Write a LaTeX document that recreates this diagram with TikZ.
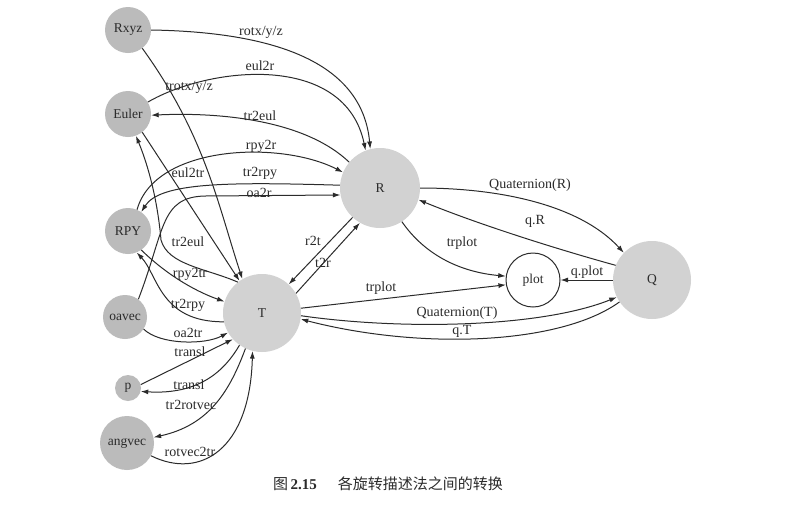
\documentclass[tikz,border=0pt]{standalone}
\usepackage{fontspec}
\setmainfont{Liberation Serif}
\newfontfamily\cjk{Noto Sans CJK SC}
\usetikzlibrary{arrows.meta}
\definecolor{ink}{HTML}{2B2B2B}
\definecolor{smallfill}{HTML}{BBBBBB}
\definecolor{bigfill}{HTML}{D2D2D2}
\begin{document}
\begin{tikzpicture}[x=1pt,y=-1pt,
  conn/.style={draw=ink, line width=1pt, -{Latex[length=7.5pt,width=5pt]}},
  lbl/.style={text=ink, font=\fontsize{14}{16}\selectfont, inner sep=0pt},
  sm/.style={circle, fill=smallfill, inner sep=0pt, text=ink, font=\fontsize{13.5}{16}\selectfont},
  bg/.style={circle, fill=bigfill, inner sep=0pt, text=ink, font=\fontsize{13.5}{16}\selectfont},
  wt/.style={circle, fill=white, draw=ink, line width=1pt, inner sep=0pt, text=ink, font=\fontsize{13.5}{16}\selectfont},
]
\useasboundingbox (0,0) rectangle (791,509);
\fill[white] (0,0) rectangle (791,509);
% nodes
\node[sm, minimum size=46pt] (Rxyz) at (128,30) {Rxyz};
\node[sm, minimum size=46pt] (Euler) at (128,114) {Euler};
\node[sm, minimum size=46pt] (RPY) at (128,231) {RPY};
\node[sm, minimum size=44pt] (oavec) at (125,317) {oavec};
\node[sm, minimum size=26pt] (p) at (128,388) {p};
\node[sm, minimum size=54pt] (angvec) at (127,443) {angvec};
\node[bg, minimum size=80pt] (R) at (380,188) {R};
\node[bg, minimum size=78pt] (T) at (262,313) {T};
\node[bg, minimum size=78pt] (Q) at (652,280) {Q};
\node[wt, minimum size=54pt] (plot) at (533,280) {plot};
% connectors
\draw[conn] (Rxyz.east) .. controls (270,32) and (362,60) .. (R.104);
\draw[conn] (Rxyz.-52) .. controls (205,135) and (218,205) .. (T.120);
\draw[conn] (Euler.31) .. controls (210,66) and (345,52) .. (R.111);
\draw[conn] (R.140) .. controls (305,120) and (220,112) .. (Euler.-3);
\draw[conn] (RPY.67) .. controls (155,145) and (280,140) .. (R.157);
\draw[conn] (R.176) .. controls (230,182) and (160,182) .. (RPY.55);
\draw[conn] (oavec.53) .. controls (165,230) and (160,197) .. (205,196) -- (R.190);
\draw[conn] (Euler.-52) -- (T.125);
\draw[conn] (T.128) .. controls (205,268) and (168,265) .. (161,240) .. controls (158,205) and (150,170) .. (Euler.-70);
\draw[conn] (RPY.-55) .. controls (170,278) and (200,293) .. (T.163);
\draw[conn] (T.193) .. controls (160,322) and (158,275) .. (RPY.-68);
\draw[conn] (oavec.-33) .. controls (160,345) and (205,345) .. (T.210);
\draw[conn] (p.15) -- (T.222);
\draw[conn] (T.235) .. controls (225,370) and (200,395) .. (p.-15);
\draw[conn] (T.245) .. controls (230,390) and (210,425) .. (angvec.12);
\draw[conn] (angvec.-28) .. controls (200,480) and (250,450) .. (T.256);
\draw[conn] (R.227) -- (T.47);
\draw[conn] (T.30) -- (R.240);
\draw[conn] (R.0) .. controls (500,188) and (580,205) .. (Q.136);
\draw[conn] (Q.158) .. controls (560,250) and (480,225) .. (R.-17);
\draw[conn] (R.-57) .. controls (425,255) and (460,272) .. (plot.172);
\draw[conn] (T.7) -- (plot.190);
\draw[conn] (T.-4) .. controls (400,330) and (540,328) .. (Q.206);
\draw[conn] (Q.214) .. controls (560,345) and (420,350) .. (T.-9);
\draw[conn] (Q.180) -- (plot.0);
% labels
\node[lbl] (l1) at (261,32) {rotx/y/z};
\node[lbl] (l2) at (189,87) {trotx/y/z};
\node[lbl] (l3) at (260,66) {eul2r};
\node[lbl] (l4) at (260,116) {tr2eul};
\node[lbl] (l5) at (261,146) {rpy2r};
\node[lbl] (l6) at (188,173) {eul2tr};
\node[lbl] (l7) at (260,173) {tr2rpy};
\node[lbl] (l8) at (259,193) {oa2r};
\node[lbl] (l9) at (188,242) {tr2eul};
\node[lbl] (l10) at (313,241) {r2t};
\node[lbl] (l11) at (323,263) {t2r};
\node[lbl] (l12) at (190,274) {rpy2tr};
\node[lbl] (l13) at (188,305) {tr2rpy};
\node[lbl] (l14) at (188,333) {oa2tr};
\node[lbl] (l15) at (190,352) {transl};
\node[lbl] (l16) at (189,385) {transl};
\node[lbl] (l17) at (191,405) {tr2rotvec};
\node[lbl] (l18) at (190,452) {rotvec2tr};
\node[lbl] (l19) at (530,185) {Quaternion(R)};
\node[lbl] (l20) at (535,221) {q.R};
\node[lbl] (l21) at (462,243) {trplot};
\node[lbl] (l22) at (381,288) {trplot};
\node[lbl] (l23) at (587,272) {q.plot};
\node[lbl] (l24) at (457,313) {Quaternion(T)};
\node[lbl] (l25) at (462,331) {q.T};
% caption
\node[anchor=west, text=ink, inner sep=0pt, font=\fontsize{15}{18}\selectfont] (cap) at (273,484)
  {{\cjk 图}\,{\bfseries 2.15}\hspace{1.4em}{\cjk 各旋转描述法之间的转换}};
\end{tikzpicture}
\end{document}
